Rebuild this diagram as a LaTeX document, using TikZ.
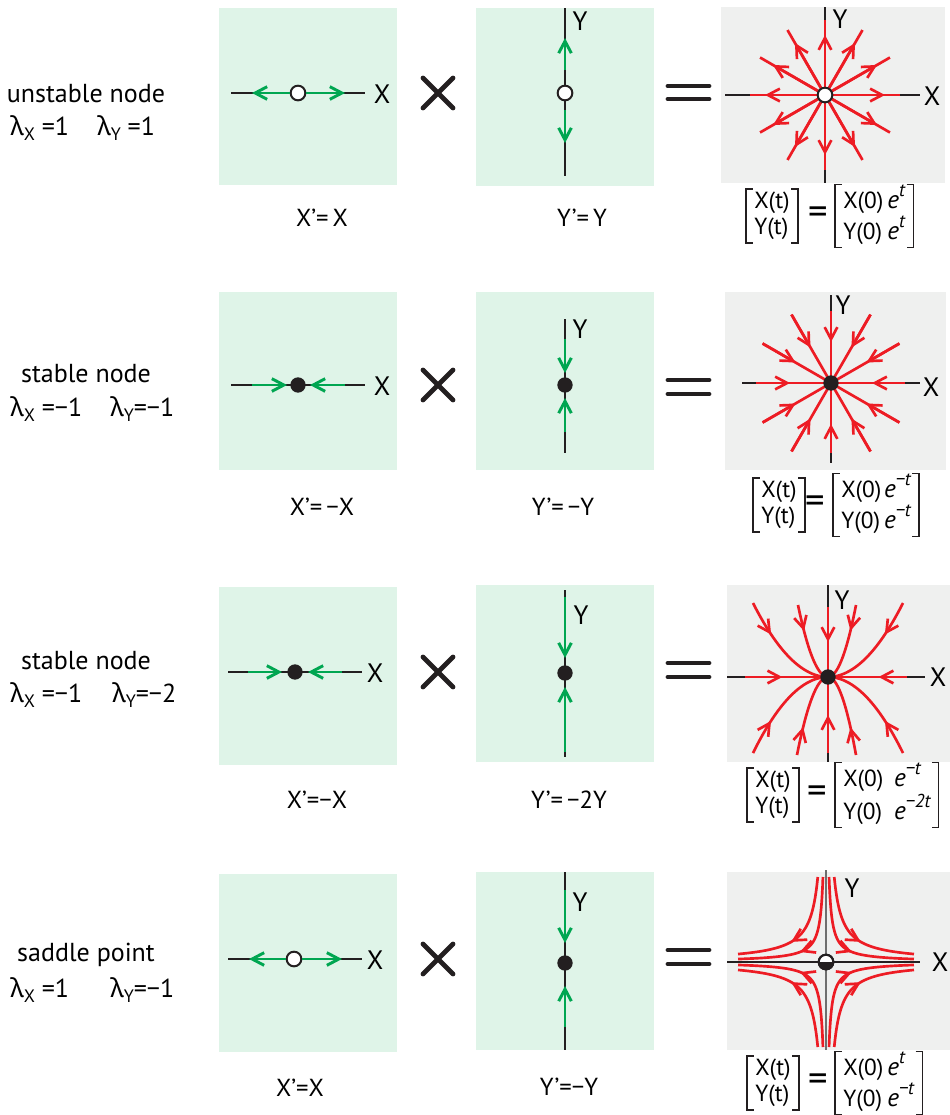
\documentclass[tikz,border=0pt]{standalone}
\usepackage{fontspec}
\setmainfont{PT Sans}
\newfontfamily\grk{Noto Sans}
\usetikzlibrary{arrows.meta,decorations.markings}
\definecolor{boxgreen}{HTML}{DFF4E8}
\definecolor{boxgray}{HTML}{EFF0EF}
\definecolor{lgreen}{HTML}{00A651}
\definecolor{lred}{HTML}{ED1C24}
\definecolor{ink}{HTML}{231F20}
\definecolor{axgray}{HTML}{6E6E6E}
\newcommand\lsub[1]{\raisebox{-0.22em}{\fontsize{13.5}{13.5}\selectfont #1}}
\newcommand\ee[1]{{\fontsize{19}{20}\selectfont\textit{e}}\raisebox{0.5em}{\fontsize{14}{14}\selectfont\itshape #1}}
\newcommand\lam{{\grk λ}}
\newcommand\mybrk[1]{%
  \draw[brk] ([xshift=5pt]#1.north west) -| (#1.south west) -- ++(5pt,0);
  \draw[brk] ([xshift=-5pt]#1.north east) -| (#1.south east) -- ++(-5pt,0);}
\begin{document}
\begin{tikzpicture}[x=0.75pt,y=-0.75pt,
  mybarb/.tip={Straight Barb[length=9pt,width=9.5pt]},
  gbox/.style={fill=boxgreen},
  pbox/.style={fill=boxgray},
  axis/.style={draw=ink, line width=1pt},
  gaxis/.style={draw=axgray, line width=1pt},
  gline/.style={draw=lgreen, line width=2.2pt},
  rline/.style={draw=lred, line width=2pt},
  odot/.style={circle, draw=ink, fill=white, line width=1.5pt, minimum size=11pt, inner sep=0pt},
  fdot/.style={circle, fill=ink, minimum size=11.5pt, inner sep=0pt},
  lbl/.style={font=\fontsize{19.5}{22}\selectfont, inner sep=0pt},
  axl/.style={font=\fontsize{20}{22}\selectfont, inner sep=0pt},
  eqn/.style={font=\fontsize{18.5}{20}\selectfont, inner sep=0pt},
  matl/.style={font=\fontsize{17.5}{20}\selectfont, inner xsep=6pt, inner ysep=0pt},
  eqs/.style={font=\fontsize{29}{29}\selectfont, inner sep=0pt},
  brk/.style={draw=ink, line width=0.9pt},
  opsign/.style={draw=ink, line width=3.6pt, line cap=round},
  rmark/.style={postaction=decorate, decoration={markings, mark=at position #1 with {\arrow{mybarb}}}}
]
\useasboundingbox (0,0) rectangle (950,1115);

% ================= Row 1 =================
\node[lbl] (t1) at (86,94) {unstable node};
\node[lbl,anchor=west] (l1x) at (10,128) {\lam\lsub{X} =1};
\node[lbl,anchor=west] (l1y) at (97,128) {\lam\lsub{Y} =1};

\fill[gbox] (219,8) rectangle (397,185);
\draw[axis] (231,93) -- (365,93);
\node[odot] (p1) at (298,93) {};
\draw[gline,-{mybarb}] (p1.west) -- (252,93);
\draw[gline,-{mybarb}] (p1.east) -- (345,93);
\node[axl] (x1) at (382,94) {X};
\node[eqn] (ex1) at (322,218) {X’=\,X};

\draw[opsign] (423,78) -- (453,108) (423,108) -- (453,78);

\fill[gbox] (476,8) rectangle (654,186);
\draw[axis] (565,8) -- (565,176);
\node[odot] (q1) at (565,93) {};
\draw[gline,-{mybarb}] (565,70) -- (565,38);
\draw[gline,-{mybarb}] (565,110) -- (565,143);
\node[axl] (y1) at (580,21) {Y};
\node[eqn] (ey1) at (582,218) {Y’=\,Y};

\draw[opsign] (668,86) -- (709,86) (668,99) -- (709,99);

\fill[pbox] (721,7) rectangle (945,183);
\coordinate (c1) at (825,95);
\draw[axis] (725,95) -- (920,95);
\draw[axis] (825,7) -- (825,183);
\foreach \a in {0,30,...,330} {
  \draw[rline] (c1) ++(\a:8) -- ++(\a:67);
  \draw[rline,-{mybarb}] (c1) ++(\a:8) -- ++(\a:52);
}
\node[odot] (o1) at (c1) {};
\node[axl] (px1) at (932,96) {X};
\node[axl] (py1) at (840,19) {Y};

\node[matl] (ml1) at (772,216) {\begin{tabular}{@{}l@{}}X(t)\\Y(t)\end{tabular}};
\mybrk{ml1}
\node[eqs] (eq1) at (818,216) {=};
\node[matl,anchor=west] (mr1) at (835,216) {\begin{tabular}{@{}l@{\hspace{3pt}}l@{}}X(0) & \ee{t}\\Y(0) & \ee{t}\end{tabular}};
\mybrk{mr1}

% ================= Row 2 =================
\node[lbl] (t2) at (86,374) {stable node};
\node[lbl,anchor=west] (l2x) at (10,409) {\lam\lsub{X} =−1};
\node[lbl,anchor=west] (l2y) at (110,409) {\lam\lsub{Y}=−1};

\fill[gbox] (219,292) rectangle (397,470);
\draw[axis] (231,385) -- (365,385);
\draw[gline,-{mybarb}] (252,385) -- (287,385);
\draw[gline,-{mybarb}] (345,385) -- (310,385);
\node[fdot] (p2) at (298,385) {};
\node[axl] (x2) at (382,386) {X};
\node[eqn] (ex2) at (322,507) {X’=\,−X};

\draw[opsign] (423,370) -- (453,400) (423,400) -- (453,370);

\fill[gbox] (476,292) rectangle (654,470);
\draw[axis] (565,319) -- (565,453);
\draw[gline,-{mybarb}] (565,339) -- (565,373);
\draw[gline,-{mybarb}] (565,432) -- (565,398);
\node[fdot] (q2) at (565,385) {};
\node[axl] (y2) at (580,329) {Y};
\node[eqn] (ey2) at (563,507) {Y’=\,−Y};

\draw[opsign] (668,380) -- (709,380) (668,394) -- (709,394);

\fill[pbox] (725,292) rectangle (946,470);
\coordinate (c2) at (831,383);
\draw[axis] (742,383) -- (920,383);
\draw[axis] (831,295) -- (831,463);
\foreach \a/\r in {0/74,90/70,180/75,270/72,30/79,60/79,120/79,150/79,210/79,240/79,300/79,330/79} {
  \draw[rline] (c2) -- ([shift={(\a:\r)}]c2);
  \draw[rline,-{mybarb}] ([shift={(\a:\r)}]c2) -- ([shift={(\a:41)}]c2);
}
\node[fdot] (o2) at (c2) {};
\node[axl] (px2) at (931,387) {X};
\node[axl] (py2) at (843,305) {Y};

\node[matl] (ml2) at (779,505) {\begin{tabular}{@{}l@{}}X(t)\\Y(t)\end{tabular}};
\mybrk{ml2}
\node[eqs] (eq2) at (815,505) {=};
\node[matl,anchor=west] (mr2) at (833,505) {\begin{tabular}{@{}l@{\hspace{2pt}}l@{}}X(0) & \ee{−t}\\Y(0) & \ee{−t}\end{tabular}};
\mybrk{mr2}

% ================= Row 3 =================
\node[lbl] (t3) at (86,661) {stable node};
\node[lbl,anchor=west] (l3x) at (10,695) {\lam\lsub{X} =−1};
\node[lbl,anchor=west] (l3y) at (112,695) {\lam\lsub{Y}=−2};

\fill[gbox] (219,587) rectangle (397,765);
\draw[axis] (228,672) -- (362,672);
\draw[gline,-{mybarb}] (248,672) -- (282,672);
\draw[gline,-{mybarb}] (342,672) -- (308,672);
\node[fdot] (p3) at (295,672) {};
\node[axl] (x3) at (375,673) {X};
\node[eqn] (ex3) at (317,800) {X’=−X};

\draw[opsign] (423,657) -- (453,687) (423,687) -- (453,657);

\fill[gbox] (476,585) rectangle (654,762);
\draw[axis] (565,590) -- (565,757);
\draw[gline,-{mybarb}] (565,597) -- (565,658);
\draw[gline,-{mybarb}] (565,752) -- (565,687);
\node[fdot] (q3) at (565,673) {};
\node[axl] (y3) at (581,615) {Y};
\node[eqn] (ey3) at (569,800) {Y’=\,−2Y};

\draw[opsign] (668,663) -- (709,663) (668,677) -- (709,677);

\fill[pbox] (727,585) rectangle (950,762);
\coordinate (c3) at (828,677);
\draw[axis] (727,677) -- (925,677);
\draw[axis] (828,585) -- (828,762);
\foreach \ptx/\pty in {-75/-74,-30/-72,28/-72,75/-74,-75/76,-31/78,28/78,75/76} {
  \draw[rline, rmark=0.33, shift={(c3)}] plot[domain=0:1, samples=40] ({\ptx*(1-\x)},{\pty*(1-\x)^2});
}
\draw[rline, rmark=0.5] ([shift={(0,-70)}]c3) -- (c3);
\draw[rline, rmark=0.5] ([shift={(0,76)}]c3) -- (c3);
\draw[rline, rmark=0.45] ([shift={(-83,0)}]c3) -- (c3);
\draw[rline, rmark=0.36] ([shift={(79,0)}]c3) -- (c3);
\node[fdot] (o3) at (c3) {};
\node[axl] (px3) at (938,677) {X};
\node[axl] (py3) at (842,600) {Y};

\node[matl] (ml3) at (773,795) {\begin{tabular}{@{}l@{}}X(t)\\Y(t)\end{tabular}};
\mybrk{ml3}
\node[eqs] (eq3) at (817,795) {=};
\node[matl,anchor=west] (mr3) at (835,795) {\begin{tabular}{@{}l@{\hspace{8pt}}l@{}}X(0) & \ee{−t}\\Y(0) & \ee{−2t}\end{tabular}};
\mybrk{mr3}

% ================= Row 4 =================
\node[lbl] (t4) at (86,955) {saddle point};
\node[lbl,anchor=west] (l4x) at (10,990) {\lam\lsub{X} =1};
\node[lbl,anchor=west] (l4y) at (110,990) {\lam\lsub{Y}=−1};

\fill[gbox] (219,874) rectangle (397,1052);
\draw[axis] (228,959) -- (362,959);
\node[odot] (p4) at (294,959) {};
\draw[gline,-{mybarb}] (p4.west) -- (249,959);
\draw[gline,-{mybarb}] (p4.east) -- (342,959);
\node[axl] (x4) at (375,960) {X};
\node[eqn] (ex4) at (300,1088) {X’=X};

\draw[opsign] (423,944) -- (453,974) (423,974) -- (453,944);

\fill[gbox] (476,872) rectangle (654,1050);
\draw[axis] (565,872) -- (565,1050);
\draw[gline,-{mybarb}] (565,890) -- (565,943);
\draw[gline,-{mybarb}] (565,1027) -- (565,986);
\node[fdot] (q4) at (565,963) {};
\node[axl] (y4) at (580,902) {Y};
\node[eqn] (ey4) at (569,1087) {Y’=−Y};

\draw[opsign] (668,950) -- (709,950) (668,964) -- (709,964);

\fill[pbox] (727,872) rectangle (950,1050);
\coordinate (c4) at (826,962);
\draw[axis] (727,962) -- (920,962);
\draw[gaxis] (826,870) -- (826,1050);
\foreach \sx/\sy in {-1/-1,1/-1,-1/1,1/1} {
  \foreach \aa/\LL in {8.235/2.369,3.059/3.359} {
    \draw[rline, rmark=0.57, shift={(c4)}] plot[domain=0:\LL, samples=60] ({\sx*\aa*exp(\x)},{\sy*85*exp(-\x)});
  }
}
\node[odot] (o4) at (c4) {};
\fill[ink] (c4) ++(-5.5pt,0) arc[start angle=180, end angle=360, radius=5.5pt] -- cycle;
\draw[ink, line width=1.5pt] (c4) circle (5.5pt);
\node[axl] (px4) at (940,962) {X};
\node[axl] (py4) at (852,888) {Y};

\node[matl] (ml4) at (773,1083) {\begin{tabular}{@{}l@{}}X(t)\\Y(t)\end{tabular}};
\mybrk{ml4}
\node[eqs] (eq4) at (818,1083) {=};
\node[matl,anchor=west] (mr4) at (835,1083) {\begin{tabular}{@{}l@{\hspace{3pt}}l@{}}X(0) & \ee{t}\\Y(0) & \ee{−t}\end{tabular}};
\mybrk{mr4}

\end{tikzpicture}
\end{document}
